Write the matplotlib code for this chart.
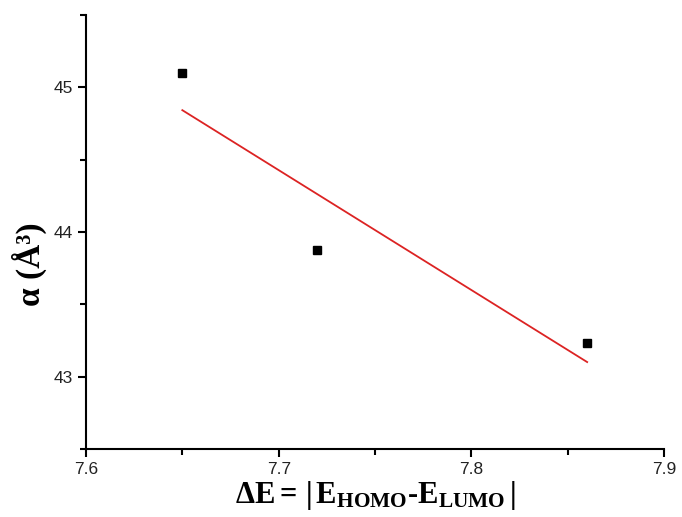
import numpy as np
import matplotlib
matplotlib.use('Agg')
import matplotlib.pyplot as plt
from matplotlib.ticker import MultipleLocator

# datos
delta_e = [7.65, 7.72, 7.86]
alpha = [45.10, 43.875, 43.23]

plt.rcParams['font.family'] = 'Liberation Sans'
plt.rcParams['mathtext.fontset'] = 'custom'
plt.rcParams['mathtext.rm'] = 'Liberation Serif:bold'
plt.rcParams['mathtext.bf'] = 'Liberation Serif:bold'
plt.rcParams['mathtext.it'] = 'Liberation Serif:bold:italic'

fig = plt.figure(figsize=(6.82, 5.17), dpi=100)
ax = fig.add_axes([0.126, 0.1315, 0.848, 0.8395])

# ajuste lineal
m, b = np.polyfit(delta_e, alpha, 1)
xf = np.array([min(delta_e), max(delta_e)])
ax.plot(xf, m * xf + b, color='#dc2323', lw=1.3)
ax.plot(delta_e, alpha, 's', color='black', ms=6)

ax.set_xlim(7.6, 7.9)
ax.set_ylim(42.5, 45.5)
ax.xaxis.set_major_locator(MultipleLocator(0.1))
ax.xaxis.set_minor_locator(MultipleLocator(0.05))
ax.yaxis.set_major_locator(MultipleLocator(1))
ax.yaxis.set_minor_locator(MultipleLocator(0.5))
ax.xaxis.set_major_formatter(plt.FuncFormatter(lambda v, p: f'{v:.1f}'))
ax.yaxis.set_major_formatter(plt.FuncFormatter(lambda v, p: f'{v:.0f}'))

for s in ['top', 'right']:
    ax.spines[s].set_visible(False)
for s in ['left', 'bottom']:
    ax.spines[s].set_linewidth(1.5)
ax.tick_params(which='both', direction='out', width=1.5, labelsize=12.5,
               colors='black', labelcolor='#222222')
ax.tick_params(which='major', length=6)
ax.tick_params(which='minor', length=4)

ax.set_xlabel(r'$\mathrm{\Delta E{=}\,|\,E_{HOMO}\text{-}E_{LUMO}\,|}$', fontsize=22, labelpad=1)
ax.set_ylabel('α (Å³)', fontsize=24, fontfamily='Liberation Serif', fontweight='bold')
ax.yaxis.set_label_coords(-0.068, 0.425)

plt.savefig('out.png', dpi=100)
